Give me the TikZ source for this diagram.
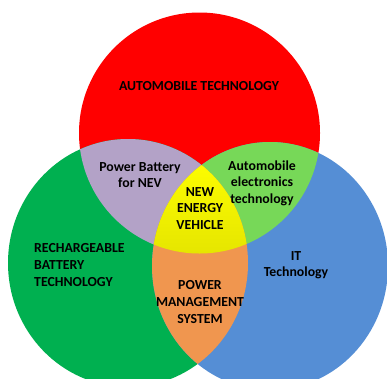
\documentclass[tikz,border=0pt]{standalone}
\usepackage{fontspec}
\setmainfont{Carlito}
\definecolor{cred}{HTML}{FF0000}
\definecolor{cgreen}{HTML}{00B050}
\definecolor{cblue}{HTML}{558ED5}
\definecolor{cpurple}{HTML}{B3A2C7}
\definecolor{clgreen}{HTML}{77D858}
\definecolor{cyellowtop}{HTML}{FFFF00}
\definecolor{cyellowbot}{HTML}{E4E400}
\definecolor{corange}{HTML}{F0964F}
\tikzset{
  lbl/.style={font=\bfseries\fontsize{13.8}{16.6}\selectfont, text=black, align=center, inner sep=0pt},
  lblleft/.style={lbl, align=left}
}
\newcommand{\redshape}{(199.5,133) circle[radius=120.5]}
\newcommand{\greenshape}{(128,263) ellipse[x radius=120, y radius=124]}
\newcommand{\blueshape}{(270,266) ellipse[x radius=118, y radius=124]}
\begin{document}
\begin{tikzpicture}[x=1pt,y=-1pt]
\useasboundingbox (0,0) rectangle (387,378);
\fill[white] (0,0) rectangle (387,378);
\fill[cred] \redshape;
\fill[cgreen] \greenshape;
\fill[cblue] \blueshape;
\begin{scope}
  \clip \redshape;
  \fill[cpurple] \greenshape;
  \fill[clgreen] \blueshape;
\end{scope}
\begin{scope}
  \clip \greenshape;
  \fill[corange] \blueshape;
\end{scope}
\begin{scope}
  \clip \redshape;
  \clip \greenshape;
  \clip \blueshape;
  \shade[top color=cyellowtop, bottom color=cyellowbot] (140,155) rectangle (260,260);
\end{scope}
\node[lbl] (auto) at (199,86) {AUTOMOBILE TECHNOLOGY};
\node[lbl] (pb) at (140,175) {Power Battery\\for NEV};
\node[lbl] (ae) at (262,183) {Automobile\\electronics\\technology};
\node[lbl] (nev) at (200,208.5) {NEW\\ENERGY\\VEHICLE};
\node[lblleft, anchor=west] (rb) at (34,265) {RECHARGEABLE\\BATTERY\\TECHNOLOGY};
\node[lbl] (it) at (296,265) {IT\\Technology};
\node[lbl] (pm) at (200,302) {POWER\\MANAGEMENT\\SYSTEM};
\end{tikzpicture}
\end{document}
